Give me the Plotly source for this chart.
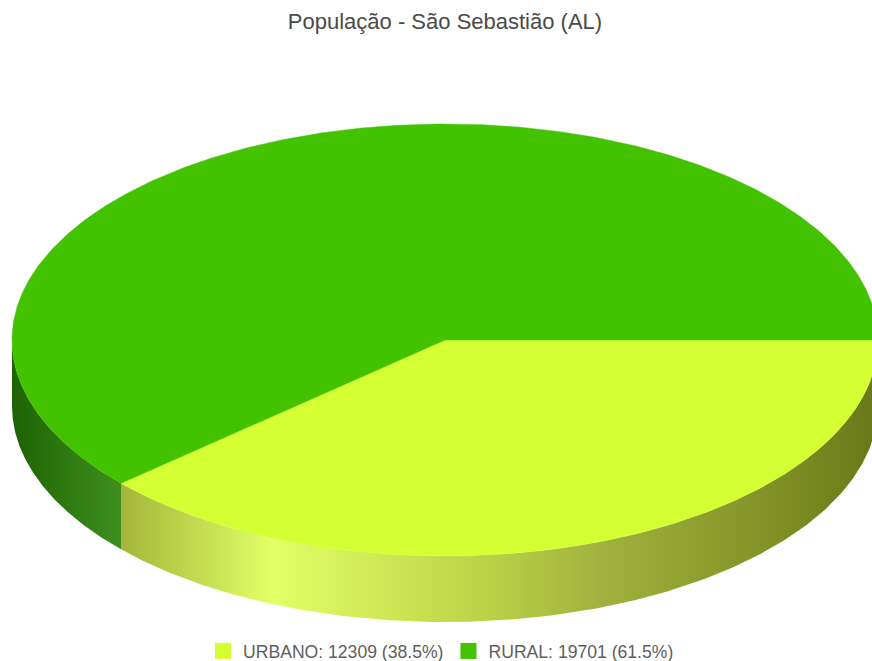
import numpy as np
import plotly.graph_objects as go

# ---- data ----
categories = ["URBANO", "RURAL"]
values = [12309, 19701]
top_colors = ["#d4ff33", "#43c300"]
title_text = "População - São Sebastião (AL)"

# ---- geometry / style ----
W, H = 872, 661
cx, cy = 445, 340
rx, ry = 433, 216
depth = 66

side_scales = [
    [[0, "#a4b63a"], [0.2, "#e2ff66"], [0.37, "#cce452"], [0.5, "#b8ce46"],
     [0.63, "#a2b23e"], [0.76, "#90a030"], [0.89, "#7c8c22"], [1, "#687818"]],
    [[0, "#1e6204"], [0.5, "#2e7a10"], [1, "#3e8e1e"]],
]

total = sum(values)
fracs = [v / total for v in values]
starts = np.cumsum([0] + fracs[:-1]) * 2 * np.pi
ends = np.cumsum(fracs) * 2 * np.pi

fig = go.Figure()

# side faces (visible where 0 < t < pi)
for i, (a0, a1) in enumerate(zip(starts, ends)):
    s0, s1 = max(a0, 0), min(a1, np.pi)
    if s1 <= s0:
        continue
    t = np.linspace(s0, s1, 200)
    xt = cx + rx * np.cos(t)
    yt = cy + ry * np.sin(t)
    xs = np.concatenate([xt, xt[::-1]])
    ys = np.concatenate([yt, (yt + depth)[::-1]])
    fig.add_trace(go.Scatter(
        x=xs, y=ys, mode="lines", fill="toself",
        line=dict(width=0, color=side_scales[i][0][1]),
        fillgradient=dict(type="horizontal", colorscale=side_scales[i]),
        hoverinfo="skip", showlegend=False))

# top faces
for i, (a0, a1) in enumerate(zip(starts, ends)):
    t = np.linspace(a0, a1, 400)
    xs = np.concatenate([[cx], cx + rx * np.cos(t), [cx]])
    ys = np.concatenate([[cy], cy + ry * np.sin(t), [cy]])
    fig.add_trace(go.Scatter(
        x=xs, y=ys, mode="lines", fill="toself",
        fillcolor=top_colors[i], line=dict(width=0.5, color=top_colors[i]),
        hoverinfo="skip", showlegend=False))

# legend entries
for i, c in enumerate(categories):
    pct = round(values[i] / total * 100, 1)
    fig.add_trace(go.Scatter(
        x=[None], y=[None], mode="markers",
        marker=dict(symbol="square", size=19, color=top_colors[i], line=dict(width=0)),
        name=f"{c}: {values[i]} ({pct}%)", showlegend=True))

fig.update_layout(
    width=W, height=H,
    margin=dict(l=0, r=0, t=0, b=0, autoexpand=False),
    paper_bgcolor="white", plot_bgcolor="white",
    font=dict(family="Liberation Sans, Arial, sans-serif", color="#5a5a5a"),
    title=dict(text=title_text, x=cx / W, xanchor="center", y=1 - 21 / H, yanchor="middle",
               font=dict(size=22, color="#4a4a4a")),
    xaxis=dict(range=[0, W], visible=False, fixedrange=True),
    yaxis=dict(range=[H, 0], visible=False, fixedrange=True),
    legend=dict(orientation="h", x=(W / 2 + 5) / W, xanchor="center", y=(H - 651) / H, yanchor="middle",
                font=dict(size=17.6, color="#5e5e5e"), bgcolor="rgba(0,0,0,0)"),
    showlegend=True,
)

fig.write_html("out.html", config={"displayModeBar": False},
               post_script="document.body.style.margin='0';document.body.style.overflow='hidden';")
